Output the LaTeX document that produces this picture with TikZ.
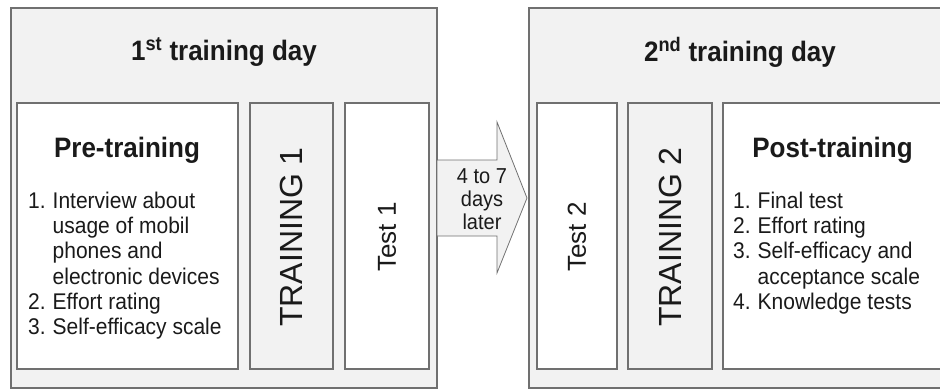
\documentclass[tikz,border=0pt]{standalone}
\usepackage{fontspec}
\usepackage{graphicx}
\setmainfont{Liberation Sans}
\definecolor{edge}{HTML}{707070}
\definecolor{panel}{HTML}{F2F2F2}
\definecolor{ink}{HTML}{1A1A1A}
% horizontal lettering is set slightly tall
\newcommand{\tallset}[1]{\scalebox{1}[1.08]{#1}}
\tikzset{
  frame/.style={draw=edge, line width=1.1pt, fill=panel},
  whitebox/.style={draw=edge, line width=1.1pt, fill=white},
  graybox/.style={draw=edge, line width=1.1pt, fill=panel},
  headline/.style={text=ink, font=\fontsize{26}{30}\selectfont\bfseries, inner sep=0pt},
  listtext/.style={text=ink, font=\fontsize{21}{23.5}\selectfont, inner sep=0pt},
  bigvert/.style={text=ink, font=\fontsize{32}{36}\selectfont, rotate=90, inner sep=0pt},
  testvert/.style={text=ink, font=\fontsize{26}{30}\selectfont, rotate=90, inner sep=0pt},
  arrowtext/.style={text=ink, font=\fontsize{20}{21.5}\selectfont, inner sep=0pt}
}
\begin{document}
\begin{tikzpicture}[x=1pt, y=-1pt]
\useasboundingbox (0,0) rectangle (940,389);
\begin{scope}
\clip (0,0) rectangle (940,389);

% first training day
\draw[frame] (11,8) rectangle (437,388);
\node[headline] (day1) at (224,52) {\tallset{1\textsuperscript{st} training day}};
\draw[whitebox] (17,103) rectangle (238,369);
\node[headline, anchor=base] (pre) at (127,157) {\tallset{Pre-training}};
\node[listtext, anchor=base west] (prelist) at (28,208) {\tallset{%
  \begin{tabular}[t]{@{}l@{\hspace{7pt}}l@{}}
  1.&Interview about\\
    &usage of mobil\\
    &phones and\\
    &electronic devices\\
  2.&Effort rating\\
  3.&Self-efficacy scale
  \end{tabular}}};
\draw[graybox] (250,103) rectangle (333,369);
\node[bigvert] (tr1) at (291.5,237) {TRAINING 1};
\draw[whitebox] (345,103) rectangle (429,369);
\node[testvert] (test1) at (387,237) {Test 1};

% gap between the days
\draw[graybox, line width=0.8pt] (437,160) -- (497,160) -- (497,122) -- (527,198)
  -- (497,273) -- (497,236) -- (437,236) -- cycle;
\node[arrowtext, anchor=base] (gap) at (482,183) {\tallset{\begin{tabular}[t]{@{}c@{}}4 to 7\\days\\later\end{tabular}}};

% second training day
\draw[frame] (529,8) rectangle (955,388);
\node[headline] (day2) at (740,52) {\tallset{2\textsuperscript{nd} training day}};
\draw[whitebox] (537,103) rectangle (617,369);
\node[testvert] (test2) at (577,237) {Test 2};
\draw[graybox] (628,103) rectangle (712,369);
\node[bigvert] (tr2) at (670,237) {TRAINING 2};
\draw[whitebox] (723,103) rectangle (950,369);
\node[headline, anchor=base] (post) at (832.5,157) {\tallset{Post-training}};
\node[listtext, anchor=base west] (postlist) at (733,208) {\tallset{%
  \begin{tabular}[t]{@{}l@{\hspace{7pt}}l@{}}
  1.&Final test\\
  2.&Effort rating\\
  3.&Self-efficacy and\\
    &acceptance scale\\
  4.&Knowledge tests
  \end{tabular}}};
\end{scope}
\end{tikzpicture}
\end{document}
